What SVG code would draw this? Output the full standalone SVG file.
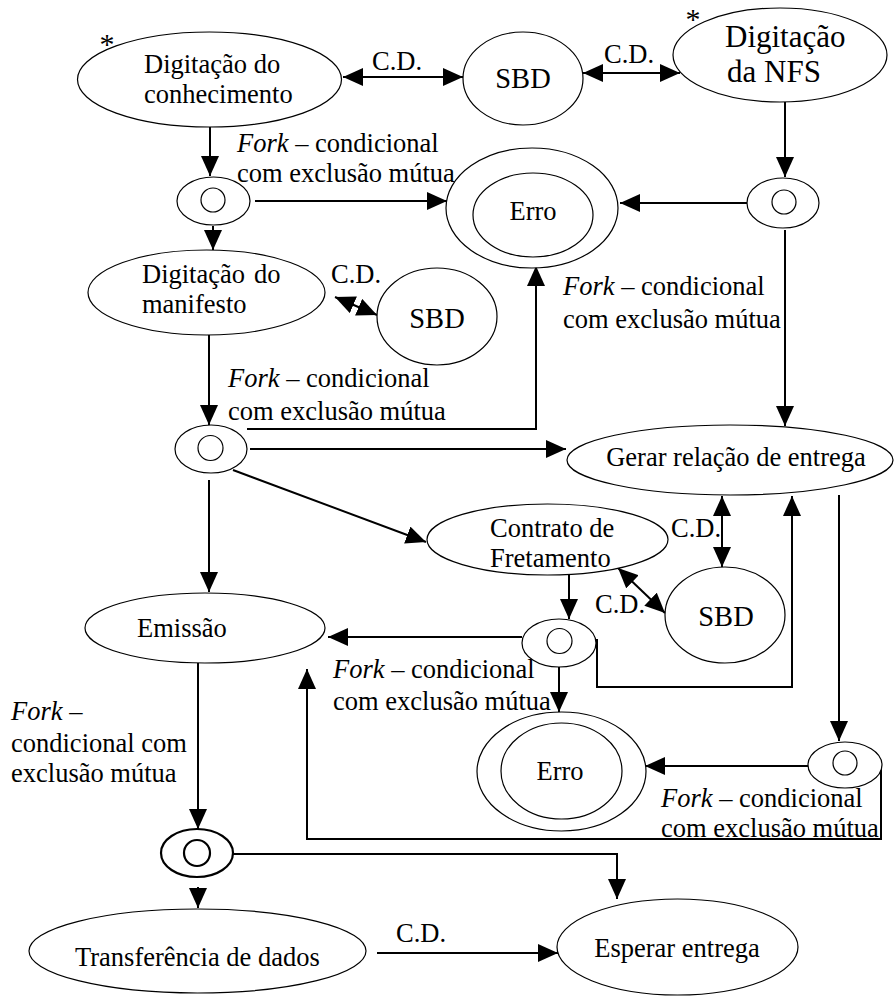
<svg xmlns="http://www.w3.org/2000/svg" width="894" height="997" viewBox="0 0 894 997" font-family="Liberation Serif, Times New Roman, Times, serif">
<defs>
<marker id="ah" viewBox="0 0 20 18" markerUnits="userSpaceOnUse" markerWidth="20" markerHeight="18" refX="20" refY="9" orient="auto-start-reverse">
<path d="M0,0 L20,9 L0,18 z" fill="#000"/>
</marker>
</defs>
<style>
.n{fill:#fff;stroke:#000;stroke-width:1.2}
.f{fill:none;stroke:#000;stroke-width:1.2}
text{font-family:'Liberation Serif','Times New Roman',Times,serif;font-size:26.5px;fill:#000}
.c line,.c polyline{fill:none;stroke:#000;stroke-width:2}
.a{marker-end:url(#ah)}
.b{marker-start:url(#ah);marker-end:url(#ah)}
.i{font-style:italic}
.big{font-size:31px}
.sbd{font-size:28.5px}
.star{font-size:30px}
</style>
<rect width="894" height="997" fill="#fff"/>
<g class="c" id="connectors">
<line class="b" x1="343" y1="77" x2="463" y2="77"/>
<line class="b" x1="583" y1="73" x2="680" y2="73"/>
<line class="a" x1="210" y1="127" x2="210" y2="176"/>
<line class="a" x1="255" y1="201" x2="447" y2="201"/>
<line class="a" x1="213" y1="226" x2="213" y2="250"/>
<line class="a" x1="785" y1="102" x2="785" y2="177"/>
<line class="a" x1="747" y1="203" x2="620" y2="203"/>
<line class="a" x1="785" y1="230" x2="785" y2="426"/>
<line class="b" x1="335" y1="297" x2="377" y2="315"/>
<line class="a" x1="209" y1="335" x2="209" y2="425"/>
<polyline class="a" points="247,429 536,429 536,266"/>
<line class="a" x1="250" y1="449" x2="566" y2="449"/>
<line class="a" x1="233" y1="470" x2="426" y2="542"/>
<line class="a" x1="209" y1="480" x2="209" y2="592"/>
<line class="b" x1="722" y1="496" x2="722" y2="567"/>
<line class="b" x1="618" y1="568" x2="665" y2="613"/>
<line class="a" x1="569" y1="575" x2="569" y2="619"/>
<line class="a" x1="522" y1="637" x2="328" y2="637"/>
<polyline class="a" points="597,639 597,687 792,687 792,496"/>
<line class="a" x1="559" y1="667" x2="559" y2="712"/>
<line class="a" x1="839" y1="495" x2="839" y2="741"/>
<line class="a" x1="808" y1="766" x2="645" y2="766"/>
<polyline class="a" points="881,765 881,839 307,839 307,669"/>
<line class="a" x1="198" y1="663" x2="198" y2="829"/>
<line class="a" x1="198" y1="887" x2="198" y2="908"/>
<polyline class="a" points="233,854 617,854 617,899"/>
<line class="a" x1="377" y1="953" x2="558" y2="953"/>
<text x="397" y="70" text-anchor="middle">C.D.</text>
<text x="629" y="63" text-anchor="middle">C.D.</text>
<text x="356" y="283" text-anchor="middle">C.D.</text>
<text x="696" y="537" text-anchor="middle">C.D.</text>
<text x="620" y="613" text-anchor="middle">C.D.</text>
<text x="421" y="942" text-anchor="middle">C.D.</text>
<text x="237" y="152"><tspan class="i">Fork</tspan> – condicional</text>
<text x="237" y="182">com exclusão mútua</text>
<text x="563" y="295"><tspan class="i">Fork</tspan> – condicional</text>
<text x="563" y="328">com exclusão mútua</text>
<text x="228" y="387"><tspan class="i">Fork</tspan> – condicional</text>
<text x="228" y="420">com exclusão mútua</text>
<text x="333" y="678"><tspan class="i">Fork</tspan> – condicional</text>
<text x="333" y="710">com exclusão mútua</text>
<text x="661" y="807"><tspan class="i">Fork</tspan> – condicional</text>
<text x="661" y="837">com exclusão mútua</text>
<text x="11" y="720"><tspan class="i">Fork</tspan> –</text>
<text x="11" y="752">condicional com</text>
<text x="11" y="782">exclusão mútua</text>
</g>
<g id="conhecimento">
<ellipse class="n" cx="209.5" cy="79.5" rx="132" ry="47.5"/>
<text class="star" x="107" y="54" text-anchor="middle">*</text>
<text x="144" y="73">Digitação do</text>
<text x="144" y="103">conhecimento</text>
</g>
<g id="sbd1">
<ellipse class="n" cx="523" cy="78.5" rx="60" ry="46.5"/>
<text class="sbd" x="523" y="88" text-anchor="middle">SBD</text>
</g>
<g id="nfs">
<ellipse class="n" cx="780" cy="55" rx="107" ry="47"/>
<text class="star" x="693" y="29" text-anchor="middle">*</text>
<text class="big" x="725" y="47">Digitação</text>
<text class="big" x="727" y="82">da NFS</text>
</g>
<g id="fork1">
<ellipse class="n" cx="213.5" cy="201" rx="36.5" ry="24"/>
<circle class="f" cx="213" cy="200" r="12"/>
</g>
<g id="erro1">
<ellipse class="n" cx="532" cy="208" rx="86" ry="60"/>
<ellipse class="n" cx="533" cy="215" rx="60" ry="42"/>
<text x="533" y="220" text-anchor="middle">Erro</text>
</g>
<g id="fork2">
<ellipse class="n" cx="783" cy="203" rx="36" ry="25"/>
<circle class="f" cx="784" cy="202" r="12"/>
</g>
<g id="manifesto">
<ellipse class="n" cx="206.5" cy="292.5" rx="118.5" ry="42.5"/>
<text x="142" y="283">Digitação<tspan x="254">do</tspan></text>
<text x="142" y="313">manifesto</text>
</g>
<g id="sbd2">
<ellipse class="n" cx="437" cy="316.5" rx="60" ry="48.5"/>
<text class="sbd" x="437" y="328" text-anchor="middle">SBD</text>
</g>
<g id="fork3">
<ellipse class="n" cx="211" cy="449" rx="36" ry="24"/>
<circle class="f" cx="210.5" cy="448" r="12.5"/>
</g>
<g id="gerar">
<ellipse class="n" cx="730" cy="460" rx="163" ry="35"/>
<text x="736" y="466" text-anchor="middle">Gerar relação de entrega</text>
</g>
<g id="contrato">
<ellipse class="n" cx="547.5" cy="539.5" rx="120.5" ry="35.5"/>
<text x="490" y="537">Contrato de</text>
<text x="490" y="567">Fretamento</text>
</g>
<g id="sbd3">
<ellipse class="n" cx="725" cy="615" rx="60" ry="48"/>
<text class="sbd" x="726" y="626" text-anchor="middle">SBD</text>
</g>
<g id="emissao">
<ellipse class="n" cx="205" cy="628" rx="120" ry="35"/>
<text x="137" y="637">Emissão</text>
</g>
<g id="fork4">
<ellipse class="n" cx="559" cy="643" rx="37" ry="24"/>
<circle class="f" cx="559.5" cy="641" r="12.5"/>
</g>
<g id="erro2">
<ellipse class="n" cx="561.5" cy="771.5" rx="84.5" ry="59.5"/>
<ellipse class="n" cx="561.5" cy="771" rx="60.5" ry="48"/>
<text x="560" y="780" text-anchor="middle">Erro</text>
</g>
<g id="fork5">
<ellipse class="n" cx="845" cy="765" rx="37" ry="23"/>
<circle class="f" cx="845" cy="763" r="12"/>
</g>
<g id="fork6">
<ellipse class="n" cx="197" cy="853" rx="36" ry="24" style="stroke-width:2.2"/>
<circle class="f" cx="197" cy="853" r="13" style="stroke-width:2.2"/>
</g>
<g id="transferencia">
<ellipse class="n" cx="197.5" cy="951" rx="168.5" ry="42"/>
<text x="75" y="966">Transferência de dados</text>
</g>
<g id="esperar">
<ellipse class="n" cx="677.5" cy="947" rx="120.5" ry="48"/>
<text x="677" y="957" text-anchor="middle">Esperar entrega</text>
</g>
</svg>
